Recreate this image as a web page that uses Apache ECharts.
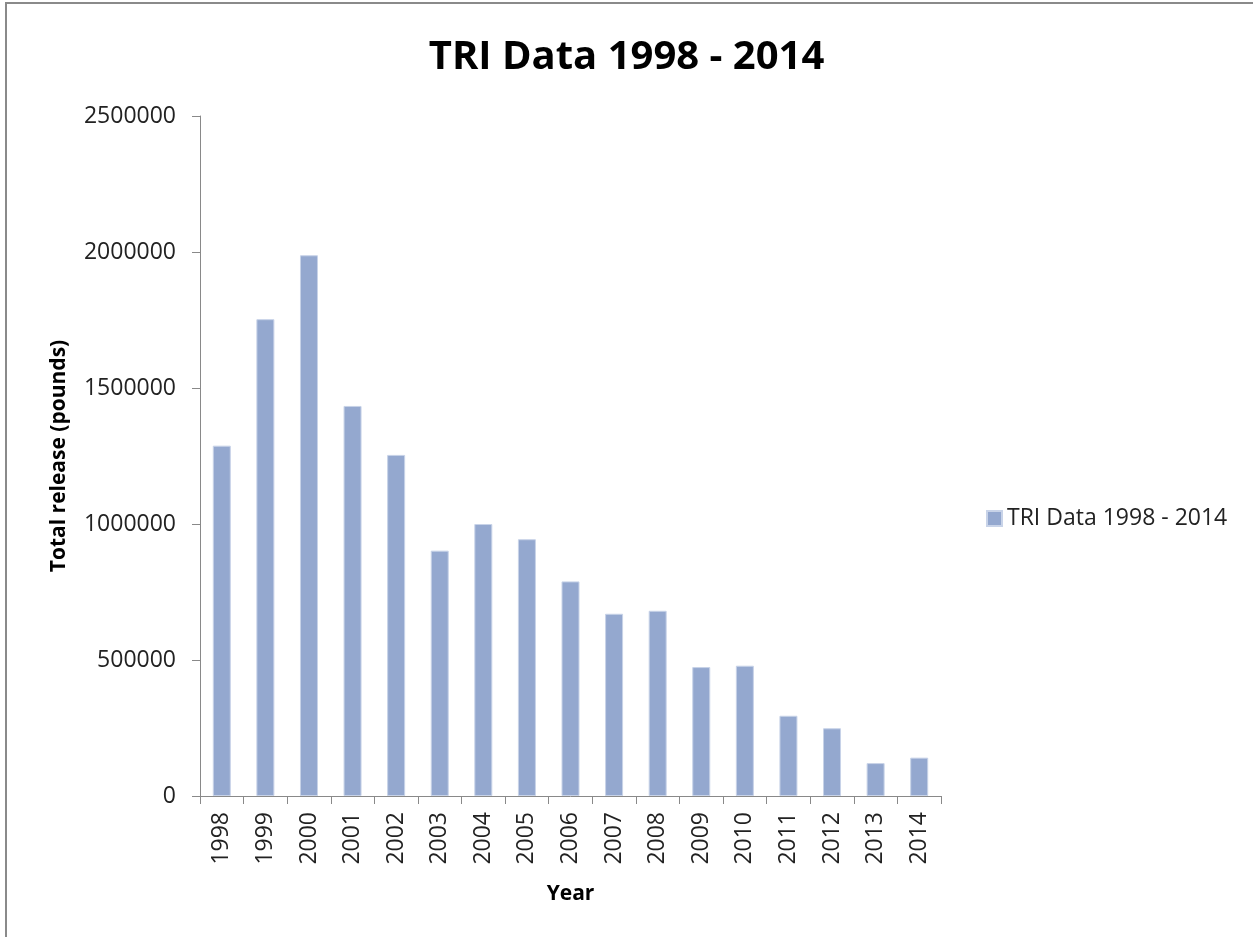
<!DOCTYPE html>
<html>
<head>
<meta charset="utf-8">
<script src="https://cdn.jsdelivr.net/npm/echarts@6/dist/echarts.min.js"></script>
<style>
html,body{margin:0;padding:0;background:#fff;}
#frame{position:absolute;left:5px;top:2px;width:1260px;height:940px;border-top:2px solid #8a8a8a;border-left:2px solid #8a8a8a;box-sizing:border-box;}
#chart{position:absolute;left:0;top:0;width:1253px;height:937px;}
</style>
</head>
<body>
<div id="frame"></div>
<div id="chart"></div>
<script>
const titleText = 'TRI Data 1998 - 2014';
const seriesName = 'TRI Data 1998 - 2014';
const years = ['1998','1999','2000','2001','2002','2003','2004','2005','2006','2007','2008','2009','2010','2011','2012','2013','2014'];
const releases = [1288000, 1753000, 1988000, 1434000, 1254000, 902000, 1000000, 944000, 789000, 670000, 681000, 474000, 479000, 295000, 249000, 121000, 141000];
const yMin = 0, yMax = 2500000, yStep = 500000;

const chart = echarts.init(document.getElementById('chart'), null, {renderer:'canvas'});
const font = '"Open Sans", "DejaVu Sans", sans-serif';
chart.setOption({
  backgroundColor: 'transparent',
  animation: false,
  title: {
    text: titleText,
    left: 'center',
    top: 33,
    textStyle: {fontFamily: font, fontWeight: 'bold', fontSize: 40, color: '#000'}
  },
  legend: {
    data: [seriesName],
    left: 981,
    top: 502,
    icon: 'rect',
    itemWidth: 15,
    itemHeight: 15,
    itemGap: 8,
    textStyle: {fontFamily: font, fontSize: 23, color: '#222'}
  },
  grid: {left: 200, top: 116, right: 312, bottom: 141, containLabel: false},
  xAxis: {
    type: 'category',
    data: years,
    name: 'Year',
    nameLocation: 'middle',
    nameGap: 88,
    nameTextStyle: {fontFamily: font, fontWeight: 'bold', fontSize: 21, color: '#000'},
    axisLine: {lineStyle: {color: '#898989', width: 1}},
    axisTick: {show: true, length: 8, lineStyle: {color: '#898989'}},
    axisLabel: {rotate: 90, margin: 16, fontFamily: font, fontSize: 23, color: '#222'}
  },
  yAxis: {
    type: 'value',
    min: yMin, max: yMax, interval: yStep,
    name: 'Total release (pounds)',
    nameLocation: 'middle',
    nameRotate: 90,
    nameGap: 130,
    nameTextStyle: {fontFamily: font, fontWeight: 'bold', fontSize: 21, color: '#000'},
    axisLine: {show: true, lineStyle: {color: '#898989', width: 1}},
    axisTick: {show: true, length: 8, lineStyle: {color: '#898989'}},
    splitLine: {show: false},
    axisLabel: {margin: 24, fontFamily: font, fontSize: 23, color: '#222', formatter: v => String(v)}
  },
  series: [{
    name: seriesName,
    type: 'bar',
    data: releases,
    barWidth: 18,
    itemStyle: {color: '#94a8cf', borderColor: '#c8d3e8', borderWidth: 1}
  }]
});
</script>
</body>
</html>
